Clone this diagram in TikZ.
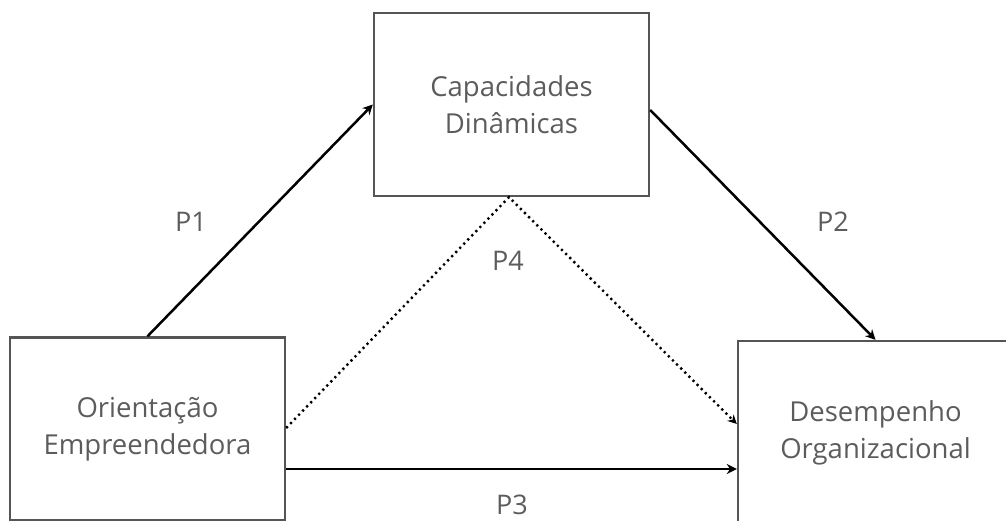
\documentclass[tikz,border=0pt]{standalone}
\usepackage{fontspec}
\setmainfont{Open Sans}
\usetikzlibrary{arrows.meta}
\definecolor{boxgray}{HTML}{555555}
\definecolor{txtgray}{HTML}{5C5C5C}
\tikzset{
  box/.style={draw=boxgray, line width=2.4pt, minimum width=275pt, minimum height=183pt,
    align=center, text=txtgray, font=\fontsize{27.5}{37}\selectfont, inner sep=0pt},
  lbl/.style={text=txtgray, font=\fontsize{27}{30}\selectfont, inner sep=0pt},
  conn/.style={draw=black, line width=2.5pt, -{Stealth[length=10pt,width=10pt]}},
  dotconn/.style={draw=black, line width=2.4pt, dash pattern=on 2.2pt off 3.6pt, -{Stealth[length=9pt,width=9pt]}}
}
\begin{document}
\begin{tikzpicture}[x=1pt,y=-1pt]
\useasboundingbox (0,0) rectangle (1006,521);
\clip (0,0) rectangle (1006,521);
\node[box] (cd) at (511.5,104.5) {Capacidades\\Dinâmicas};
\node[box] (oe) at (147.5,429) {Orientação\\Empreendedora};
\node[box] (do) at (875.5,432.5) {Desempenho\\Organizacional};
\coordinate (p3) at (0,469);
\coordinate (apex) at (509,0);
\coordinate (dl) at (0,428);
\coordinate (dr) at (0,424);
\draw[conn] (oe.north) -- (cd.west);
\draw[conn] ([yshift=-5.5pt]cd.east) -- (do.north);
\draw[conn] (oe.east |- p3) -- (do.west |- p3);
\draw[dotconn] (oe.east |- dl) -- (cd.south -| apex) -- (do.west |- dr);
\node[lbl] (l1) at (191,222) {P1};
\node[lbl] (l2) at (833,222) {P2};
\node[lbl] (l4) at (508,261) {P4};
\node[lbl] (l3) at (512,505) {P3};
\end{tikzpicture}
\end{document}
